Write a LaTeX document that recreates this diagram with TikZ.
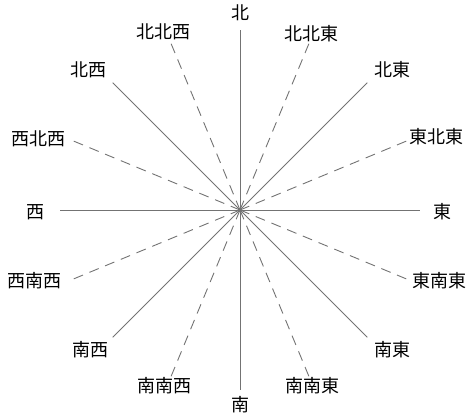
\documentclass[tikz,border=0pt]{standalone}
\usepackage{fontspec}
\newfontfamily\jp{Noto Sans CJK JP}
\begin{document}
\begin{tikzpicture}[x=1pt,y=-1pt,
  solidray/.style={draw=black!55,line width=0.9pt},
  dashray/.style={draw=black!55,line width=0.9pt,dash pattern=on 10pt off 7pt},
  lab/.style={font=\jp\fontsize{18}{18}\selectfont,inner sep=0pt}]
\useasboundingbox (0,0) rectangle (474,417);
\coordinate (c) at (240,210);
\foreach \a in {0,45,...,315} { \draw[solidray] (c) -- ++({180*sin(\a)},{-180*cos(\a)}) coordinate (e\a); }
\foreach \a in {22.5,67.5,...,337.5} { \draw[dashray] (c) -- ++({180*sin(\a)},{-180*cos(\a)}); }
\node[lab] (n) at (240,13) {北};
\node[lab] (nne) at (311,34) {北北東};
\node[lab] (ne) at (392,70) {北東};
\node[lab] (ene) at (436,137) {東北東};
\node[lab] (e) at (442,212) {東};
\node[lab] (ese) at (439,281) {東南東};
\node[lab] (se) at (392,350) {南東};
\node[lab] (sse) at (312,386) {南南東};
\node[lab] (s) at (240,405) {南};
\node[lab] (ssw) at (164,386) {南南西};
\node[lab] (sw) at (90,350) {南西};
\node[lab] (wsw) at (34.5,281) {西南西};
\node[lab] (w) at (36,212) {西};
\node[lab] (wnw) at (38.5,139) {西北西};
\node[lab] (nw) at (88,70) {北西};
\node[lab] (nnw) at (163,32) {北北西};
\end{tikzpicture}
\end{document}
